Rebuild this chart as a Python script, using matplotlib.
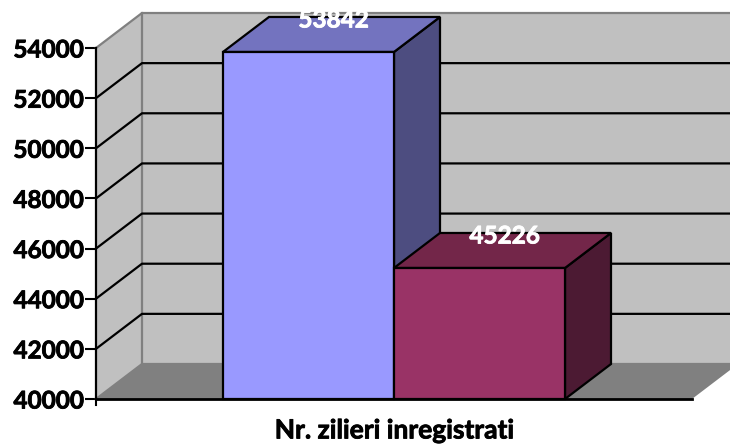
import numpy as np
import matplotlib
matplotlib.use("Agg")
import matplotlib.pyplot as plt
import matplotlib.patheffects as pe

# Data
category = "Nr. zilieri inregistrati"
values = [53842, 45226]
y_ticks = [40000, 42000, 44000, 46000, 48000, 50000, 52000, 54000]

# colours per bar: front, top, side
front_col = ["#9999FF", "#7373BF", "#4D4D80"]
second_col = ["#993366", "#732649", "#4C1A33"]
bar_cols = [front_col, second_col]

plt.rcParams['font.family'] = ['Lato', 'DejaVu Sans']

W, H = 730, 444
fig = plt.figure(figsize=(W / 100, H / 100), dpi=100)
# plot area = the front plane of the 3D box
ax = fig.add_axes([96 / W, (H - 399) / H, (692 - 96) / W, (399 - 48) / H])
ax.set_xlim(0, 1)
ax.set_ylim(y_ticks[0], y_ticks[-1])
ax.patch.set_visible(False)
for s in ax.spines.values():
    s.set_visible(False)

# depth of the box, in data units
dx = 46 / 596
dy = 35 / 351 * (y_ticks[-1] - y_ticks[0])
y0, y1 = y_ticks[0], y_ticks[-1]
wall = "#C0C0C0"
grey = "#808080"

# back wall, side wall, floor
ax.fill([dx, 1 + dx, 1 + dx, dx], [y0 + dy, y0 + dy, y1 + dy, y1 + dy], color=wall, lw=0, clip_on=False, zorder=1)
ax.fill([0, dx, dx, 0], [y0, y0 + dy, y1 + dy, y1], color=wall, lw=0, clip_on=False, zorder=1)
ax.fill([0, 1, 1 + dx, dx], [y0, y0, y0 + dy, y0 + dy], color=grey, lw=0, clip_on=False, zorder=1)

# wall outline
ax.plot([0, dx, 1 + dx], [y1, y1 + dy, y1 + dy], color=grey, lw=1.6, clip_on=False, zorder=2)
ax.plot([dx, dx], [y0 + dy, y1 + dy], color=grey, lw=1.6, clip_on=False, zorder=2)
ax.plot([0, dx, 1 + dx], [y0, y0 + dy, y0 + dy], color=grey, lw=1.6, clip_on=False, zorder=2)

# gridlines
for t in y_ticks[1:-1]:
    ax.plot([0, dx, 1 + dx], [t, t + dy, t + dy], color="black", lw=1.6, clip_on=False, zorder=3)

# bars
bw = 171 / 596
left = (1 - 2 * bw) / 2
bold = [pe.withStroke(linewidth=0.6, foreground="white")]
for i, (v, c) in enumerate(zip(values, bar_cols)):
    x = left + i * bw
    ax.fill([x + bw, x + bw + dx, x + bw + dx, x + bw], [y0, y0 + dy, v + dy, v], facecolor=c[2],
            edgecolor="black", lw=1.6, clip_on=False, zorder=4 + i)
    ax.fill([x, x + dx, x + bw + dx, x + bw], [v, v + dy, v + dy, v], facecolor=c[1],
            edgecolor="black", lw=1.6, clip_on=False, zorder=4 + i)
    ax.bar(x, v - y0, bw, bottom=y0, align="edge", facecolor=c[0], edgecolor="black", lw=1.6,
           clip_on=False, zorder=4 + i)
    ax.text(x + bw / 2 + 25 / 596, v + 32 / 351 * (y1 - y0), str(v), color="white", fontsize=17.5,
            fontweight="bold", ha="center", va="center", clip_on=False, zorder=10, path_effects=bold)

# axes lines and ticks
ax.plot([0, 0], [y0, y1], color="black", lw=1.6, clip_on=False, zorder=3)
ax.plot([0, 1], [y0, y0], color="black", lw=2, clip_on=False, zorder=9)
ax.plot([0, 0], [y0, y0 - 6 / 351 * (y1 - y0)], color="black", lw=1.5, clip_on=False, zorder=9)

black_bold = [pe.withStroke(linewidth=0.6, foreground="black")]
ax.set_yticks(y_ticks)
ax.set_yticklabels([str(t) for t in y_ticks], fontsize=17.5, fontweight="bold", path_effects=black_bold)
ax.tick_params(axis="y", length=8, width=1.5, pad=1, color="black")
ax.set_xticks([0.5])
ax.set_xticklabels([category], fontsize=19, fontweight="bold", path_effects=black_bold)
ax.tick_params(axis="x", length=0, pad=14)

fig.savefig("out.png", dpi=100)
